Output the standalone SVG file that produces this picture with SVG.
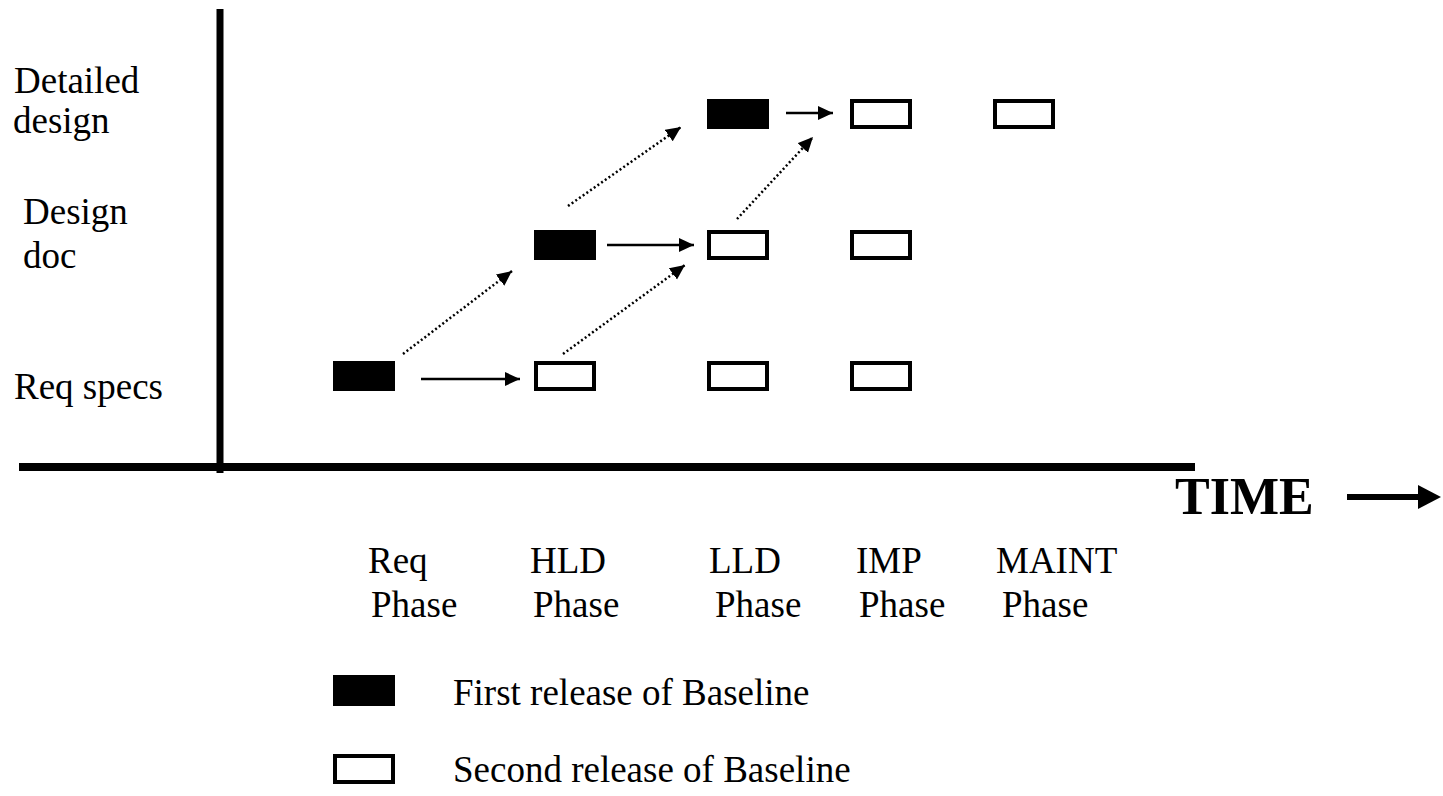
<svg xmlns="http://www.w3.org/2000/svg" width="1443" height="796" viewBox="0 0 1443 796">
<style>
.t{font-family:"Liberation Serif","Times New Roman",serif;font-size:37px;fill:#000}
.tb{font-family:"Liberation Serif","Times New Roman",serif;font-size:52px;font-weight:bold;fill:#000}
.f{fill:#000}
.o{fill:#fff;stroke:#000;stroke-width:4}
.s{stroke:#000;stroke-width:2.5;fill:none}
.d{stroke:#000;stroke-width:2.5;fill:none;stroke-dasharray:2 2.5}
.ax{stroke:#000;fill:none}
</style>
<defs>
<marker id="ah" markerUnits="userSpaceOnUse" markerWidth="16" markerHeight="15" refX="15" refY="7" orient="auto">
<path d="M0,0 L15,7 L0,14 z" fill="#000"/>
</marker>
</defs>
<g id="axes">
<line class="ax" x1="220" y1="9" x2="220" y2="473" stroke-width="7"/>
<line class="ax" x1="19" y1="467" x2="1195" y2="467" stroke-width="8"/>
</g>
<g id="labels-left">
<text class="t" x="14" y="93">Detailed</text>
<text class="t" x="13" y="133">design</text>
<text class="t" x="23" y="224">Design</text>
<text class="t" x="23" y="268">doc</text>
<text class="t" x="14" y="399">Req specs</text>
</g>
<g id="time">
<text class="tb" x="1175" y="514">TIME</text>
<line class="ax" x1="1347" y1="497" x2="1421" y2="497" stroke-width="6"/>
<polygon points="1418,485 1441,497 1418,509" fill="#000"/>
</g>
<g id="phases">
<text class="t" x="368" y="573">Req</text>
<text class="t" x="371" y="617">Phase</text>
<text class="t" x="530" y="573">HLD</text>
<text class="t" x="533" y="617">Phase</text>
<text class="t" x="709" y="573">LLD</text>
<text class="t" x="715" y="617">Phase</text>
<text class="t" x="856" y="573">IMP</text>
<text class="t" x="859" y="617">Phase</text>
<text class="t" x="996" y="573">MAINT</text>
<text class="t" x="1002" y="617">Phase</text>
</g>
<g id="node-req-first"><rect class="f" x="333" y="361" width="62" height="30"/></g>
<g id="node-req-hld"><rect class="o" x="536" y="363" width="58" height="26"/></g>
<g id="node-req-lld"><rect class="o" x="709" y="363" width="58" height="26"/></g>
<g id="node-req-imp"><rect class="o" x="852" y="363" width="58" height="26"/></g>
<g id="node-dd-first"><rect class="f" x="534" y="230" width="62" height="30"/></g>
<g id="node-dd-lld"><rect class="o" x="709" y="232" width="58" height="26"/></g>
<g id="node-dd-imp"><rect class="o" x="852" y="232" width="58" height="26"/></g>
<g id="node-det-first"><rect class="f" x="707" y="99" width="62" height="30"/></g>
<g id="node-det-imp"><rect class="o" x="852" y="101" width="58" height="26"/></g>
<g id="node-det-maint"><rect class="o" x="995" y="101" width="58" height="26"/></g>
<g id="connectors">
<line class="s" x1="421" y1="379" x2="520" y2="379" marker-end="url(#ah)"/>
<line class="s" x1="607" y1="245" x2="694" y2="245" marker-end="url(#ah)"/>
<line class="s" x1="786" y1="113" x2="833" y2="113" marker-end="url(#ah)"/>
<line class="d" x1="403" y1="354" x2="512" y2="271" marker-end="url(#ah)"/>
<line class="d" x1="563" y1="354" x2="685" y2="265" marker-end="url(#ah)"/>
<line class="d" x1="568" y1="206" x2="681" y2="127" marker-end="url(#ah)"/>
<line class="d" x1="737" y1="219" x2="813" y2="137" marker-end="url(#ah)"/>
</g>
<g id="legend">
<rect class="f" x="333" y="675" width="62" height="31"/>
<rect class="o" x="335" y="756" width="58" height="26"/>
<text class="t" x="453" y="705">First release of Baseline</text>
<text class="t" x="453" y="782">Second release of Baseline</text>
</g>
</svg>
